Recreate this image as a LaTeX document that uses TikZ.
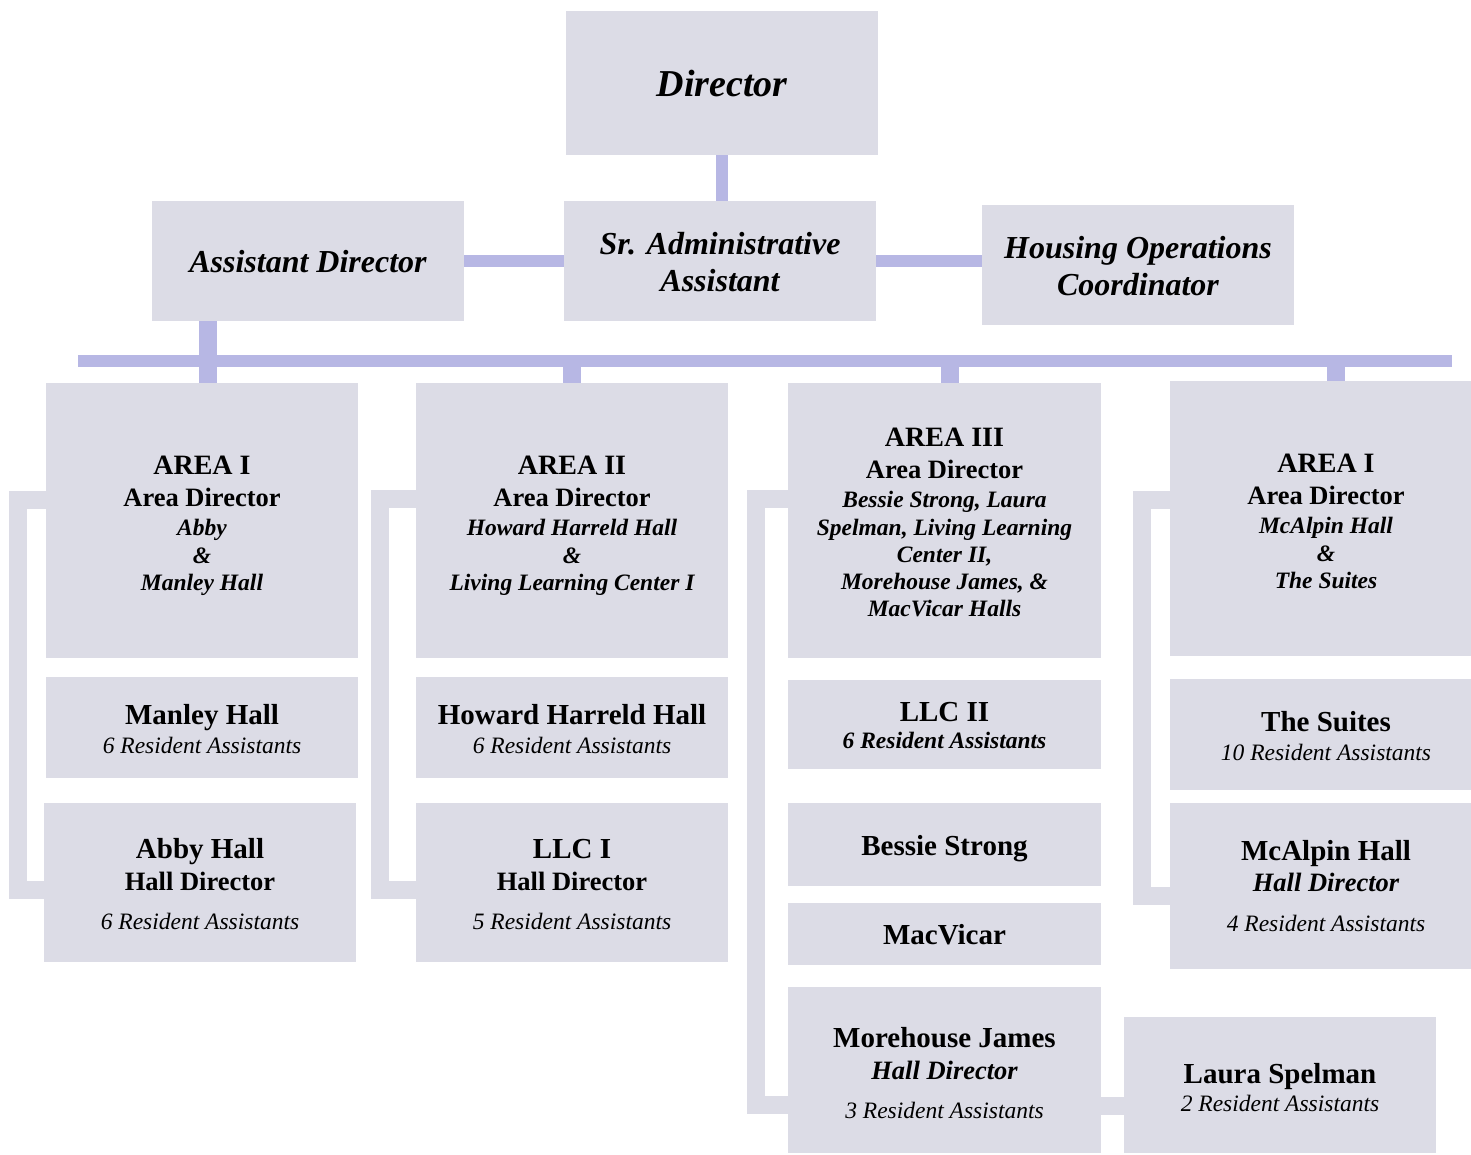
\documentclass[tikz,border=0pt]{standalone}
\usepackage{fontspec}
\setmainfont{Liberation Serif}
\definecolor{boxc}{RGB}{220,220,230}
\definecolor{connc}{RGB}{183,183,228}
\newcommand\fsz[1]{\fontsize{#1}{#1}\selectfont}
\begin{document}
\begin{tikzpicture}[x=1pt,y=-1pt,
  box/.style={fill=boxc, draw=none, inner sep=0pt},
  txt/.style={anchor=base, inner sep=0pt},
  blink/.style={draw=connc, line width=12pt},
  bthick/.style={draw=connc, line width=18pt},
  bracket/.style={draw=boxc, line width=18pt, line join=miter},
  ftop/.style={font=\fsz{32}\bfseries\itshape},
  farea/.style={font=\fsz{28}\bfseries},
  fad/.style={font=\fsz{26.5}\bfseries},
  fhd/.style={font=\fsz{26.5}\bfseries\itshape},
  fnm/.style={font=\fsz{23.5}\bfseries\itshape},
  fhall/.style={font=\fsz{29}\bfseries},
  fra/.style={font=\fsz{23.5}\itshape},
  frab/.style={font=\fsz{23.5}\bfseries\itshape}]
\useasboundingbox (0,0) rectangle (1471,1154);

% boxes
\node[box, minimum width=312pt, minimum height=144pt] (dir) at (722,83) {};
\node[box, minimum width=312pt, minimum height=120pt] (ad) at (308,261) {};
\node[box, minimum width=312pt, minimum height=120pt] (sra) at (720,261) {};
\node[box, minimum width=312pt, minimum height=120pt] (hoc) at (1138,265) {};
\node[box, minimum width=312pt, minimum height=275pt] (a1) at (202,520.5) {};
\node[box, minimum width=312pt, minimum height=101pt] (manley) at (202,727.5) {};
\node[box, minimum width=312pt, minimum height=159pt] (abby) at (200,882.5) {};
\node[box, minimum width=312pt, minimum height=275pt] (a2) at (572,520.5) {};
\node[box, minimum width=312pt, minimum height=101pt] (howard) at (572,727.5) {};
\node[box, minimum width=312pt, minimum height=159pt] (llc1) at (572,882.5) {};
\node[box, minimum width=313pt, minimum height=275pt] (a3) at (944.5,520.5) {};
\node[box, minimum width=313pt, minimum height=89pt] (llc2) at (944.5,724.5) {};
\node[box, minimum width=313pt, minimum height=83pt] (bessie) at (944.5,844.5) {};
\node[box, minimum width=313pt, minimum height=62pt] (macv) at (944.5,934) {};
\node[box, minimum width=313pt, minimum height=166pt] (more) at (944.5,1070) {};
\node[box, minimum width=312pt, minimum height=136pt] (laura) at (1280,1085) {};
\node[box, minimum width=301pt, minimum height=275pt] (a4) at (1320.5,518.5) {};
\node[box, minimum width=301pt, minimum height=111pt] (suites) at (1320.5,734.5) {};
\node[box, minimum width=301pt, minimum height=166pt] (mcalpin) at (1320.5,886) {};

% blue connectors
\draw[blink] (dir.south) -- (dir.south |- sra.north);
\draw[blink] (ad.east) -- (sra.west);
\draw[blink] (sra.east) -- (sra.east -| hoc.west);
\coordinate (adc) at (208,321);
\draw[bthick] (adc) -- (adc |- a1.north);
\coordinate (hl) at (78,361);
\coordinate (hr) at (1452,361);
\draw[blink] (hl) -- (hr);
\draw[bthick] (hl -| a2.north) -- (a2.north);
\coordinate (s3) at (950,361);
\draw[bthick] (s3) -- (s3 |- a3.north);
\coordinate (s4) at (1336,361);
\draw[bthick] (s4) -- (s4 |- a4.north);

% side brackets
\coordinate (b1t) at (18,499.5); \coordinate (b1b) at (18,890);
\draw[bracket] (b1t -| a1.west) -- (b1t) -- (b1b) -- (b1b -| abby.west);
\coordinate (b2t) at (380,498.5); \coordinate (b2b) at (380,890);
\draw[bracket] (b2t -| a2.west) -- (b2t) -- (b2b) -- (b2b -| llc1.west);
\coordinate (b3t) at (756,498.5); \coordinate (b3b) at (756,1105);
\draw[bracket] (b3t -| a3.west) -- (b3t) -- (b3b) -- (b3b -| more.west);
\coordinate (b4t) at (1141.5,500); \coordinate (b4b) at (1141.5,895.5);
\draw[bracket] (b4t -| a4.west) -- (b4t) -- (b4b) -- (b4b -| mcalpin.west);
\coordinate (mlc) at (1101,1106);
\draw[bracket] (mlc) -- (mlc -| laura.west);

% texts
\node[txt, font=\fsz{38}\bfseries\itshape] (tdir) at (722,96) {Director};
\node[txt, ftop] (tad) at (308,272) {Assistant Director};
\node[txt, ftop] (tsra1) at (720,254) {Sr. Administrative};
\node[txt, ftop] (tsra2) at (720,291) {Assistant};
\node[txt, ftop] (thoc1) at (1138,258) {Housing Operations};
\node[txt, ftop] (thoc2) at (1138,295) {Coordinator};

\node[txt, farea] (ta1a) at (202,474.5) {AREA I};
\node[txt, fad] (ta1b) at (202,506) {Area Director};
\node[txt, fnm] (ta1c) at (202,535) {Abby};
\node[txt, fnm] (ta1d) at (202,563) {\&};
\node[txt, fnm] (ta1e) at (202,590) {Manley Hall};

\node[txt, farea] (ta2a) at (572,474.5) {AREA II};
\node[txt, fad] (ta2b) at (572,506) {Area Director};
\node[txt, fnm] (ta2c) at (572,535) {Howard Harreld Hall};
\node[txt, fnm] (ta2d) at (572,563) {\&};
\node[txt, fnm] (ta2e) at (572,590) {Living Learning Center I};

\node[txt, farea] (ta3a) at (944.5,446.5) {AREA III};
\node[txt, fad] (ta3b) at (944.5,478) {Area Director};
\node[txt, fnm] (ta3c) at (944.5,507) {Bessie Strong, Laura};
\node[txt, fnm] (ta3d) at (944.5,535) {Spelman, Living Learning};
\node[txt, fnm] (ta3e) at (944.5,562) {Center II,};
\node[txt, fnm] (ta3f) at (944.5,589) {Morehouse James, \&};
\node[txt, fnm] (ta3g) at (944.5,616) {MacVicar Halls};

\node[txt, farea] (ta4a) at (1326,472.5) {AREA I};
\node[txt, fad] (ta4b) at (1326,504) {Area Director};
\node[txt, fnm] (ta4c) at (1326,533) {McAlpin Hall};
\node[txt, fnm] (ta4d) at (1326,561) {\&};
\node[txt, fnm] (ta4e) at (1326,588) {The Suites};

\node[txt, fhall] (tman1) at (202,724) {Manley Hall};
\node[txt, fra] (tman2) at (202,753) {6 Resident Assistants};
\node[txt, fhall] (tab1) at (200,858) {Abby Hall};
\node[txt, fad] (tab2) at (200,890) {Hall Director};
\node[txt, fra] (tab3) at (200,929) {6 Resident Assistants};

\node[txt, fhall] (tho1) at (572,724) {Howard Harreld Hall};
\node[txt, fra] (tho2) at (572,753) {6 Resident Assistants};
\node[txt, fhall] (tl1a) at (572,858) {LLC I};
\node[txt, fad] (tl1b) at (572,890) {Hall Director};
\node[txt, fra] (tl1c) at (572,929) {5 Resident Assistants};

\node[txt, fhall] (tl2a) at (944.5,721) {LLC II};
\node[txt, frab] (tl2b) at (944.5,748) {6 Resident Assistants};
\node[txt, fhall] (tbs) at (944.5,855) {Bessie Strong};
\node[txt, fhall] (tmv) at (944.5,944) {MacVicar};
\node[txt, fhall] (tmo1) at (944.5,1047) {Morehouse James};
\node[txt, fhd] (tmo2) at (944.5,1079) {Hall Director};
\node[txt, fra] (tmo3) at (944.5,1118) {3 Resident Assistants};

\node[txt, fhall] (tla1) at (1280,1083) {Laura Spelman};
\node[txt, fra] (tla2) at (1280,1111) {2 Resident Assistants};

\node[txt, fhall] (tsu1) at (1326,731) {The Suites};
\node[txt, fra] (tsu2) at (1326,760) {10 Resident Assistants};
\node[txt, fhall] (tmc1) at (1326,860) {McAlpin Hall};
\node[txt, fhd] (tmc2) at (1326,891) {Hall Director};
\node[txt, fra] (tmc3) at (1326,931) {4 Resident Assistants};
\end{tikzpicture}
\end{document}
